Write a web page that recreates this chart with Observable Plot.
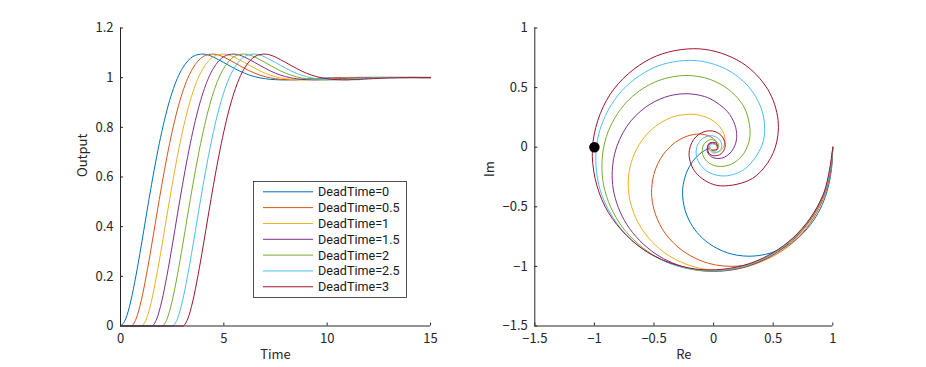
<!DOCTYPE html>
<html>
<head>
<meta charset="utf-8">
<script src="https://cdn.jsdelivr.net/npm/d3@7"></script>
<script src="https://cdn.jsdelivr.net/npm/@observablehq/plot@0.6"></script>
<style>
  html, body { margin: 0; padding: 0; background: #fff; }
  #fig { position: relative; width: 926px; height: 367px; background: #fff; overflow: hidden;
         font-family: "Noto Sans CJK JP", "Noto Sans", sans-serif; }
  #fig > svg { position: absolute; top: 0; }
</style>
</head>
<body>
<div id="fig"></div>
<script>
// ---------------- data ----------------
const deadTimes = [0, 0.5, 1, 1.5, 2, 2.5, 3];
const seriesColors = ["#0072BD", "#D95319", "#EDB120", "#7E2F8E", "#77AC30", "#4DBEEE", "#A2142F"];

// step response (left panel)
const time = [0,0.25,0.5,0.75,1,1.25,1.5,1.75,2,2.25,2.5,2.75,3,3.25,3.5,3.75,4,4.25,4.5,4.75,5,5.25,5.5,5.75,6,6.25,6.5,6.75,7,7.25,7.5,7.75,8,8.25,8.5,8.75,9,9.25,9.5,9.75,10,10.25,10.5,10.75,11,11.25,11.5,11.75,12,12.25,12.5,12.75,13,13.25,13.5,13.75,14,14.25,14.5,14.75,15];
const outDT0  = [0,.028,.101,.204,.322,.447,.569,.682,.783,.870,.941,.997,1.038,1.067,1.085,1.093,1.095,1.091,1.083,1.072,1.061,1.049,1.038,1.027,1.018,1.010,1.004,.999,.996,.993,.992,.991,.991,.992,.992,.994,.995,.996,.997,.998,.999,.999,1,1,1.001,1.001,1.001,1.001,1.001,1.001,1.001,1.001,1,1,1,1,1,1,1,1,1];
const outDT05 = [0,0,0,.028,.101,.204,.322,.447,.569,.682,.783,.870,.941,.997,1.038,1.067,1.085,1.093,1.095,1.091,1.083,1.072,1.061,1.049,1.038,1.027,1.018,1.010,1.004,.999,.996,.993,.992,.991,.991,.992,.992,.994,.995,.996,.997,.998,.999,.999,1,1,1.001,1.001,1.001,1.001,1.001,1.001,1.001,1.001,1,1,1,1,1,1,1];
const outDT1  = [0,0,0,0,0,.028,.101,.204,.322,.447,.569,.682,.783,.870,.941,.997,1.038,1.067,1.085,1.093,1.095,1.091,1.083,1.072,1.061,1.049,1.038,1.027,1.018,1.010,1.004,.999,.996,.993,.992,.991,.991,.992,.992,.994,.995,.996,.997,.998,.999,.999,1,1,1.001,1.001,1.001,1.001,1.001,1.001,1.001,1.001,1,1,1,1,1];
const outDT15 = [0,0,0,0,0,0,0,.028,.101,.204,.322,.447,.569,.682,.783,.870,.941,.997,1.038,1.067,1.085,1.093,1.095,1.091,1.083,1.072,1.061,1.049,1.038,1.027,1.018,1.010,1.004,.999,.996,.993,.992,.991,.991,.992,.992,.994,.995,.996,.997,.998,.999,.999,1,1,1.001,1.001,1.001,1.001,1.001,1.001,1.001,1.001,1,1,1];
const outDT2  = [0,0,0,0,0,0,0,0,0,.028,.101,.204,.322,.447,.569,.682,.783,.870,.941,.997,1.038,1.067,1.085,1.093,1.095,1.091,1.083,1.072,1.061,1.049,1.038,1.027,1.018,1.010,1.004,.999,.996,.993,.992,.991,.991,.992,.992,.994,.995,.996,.997,.998,.999,.999,1,1,1.001,1.001,1.001,1.001,1.001,1.001,1.001,1.001,1];
const outDT25 = [0,0,0,0,0,0,0,0,0,0,0,.028,.101,.204,.322,.447,.569,.682,.783,.870,.941,.997,1.038,1.067,1.085,1.093,1.095,1.091,1.083,1.072,1.061,1.049,1.038,1.027,1.018,1.010,1.004,.999,.996,.993,.992,.991,.991,.992,.992,.994,.995,.996,.997,.998,.999,.999,1,1,1.001,1.001,1.001,1.001,1.001,1.001,1.001];
const outDT3  = [0,0,0,0,0,0,0,0,0,0,0,0,0,.028,.101,.204,.322,.447,.569,.682,.783,.870,.941,.997,1.038,1.067,1.085,1.093,1.095,1.091,1.083,1.072,1.061,1.049,1.038,1.027,1.018,1.010,1.004,.999,.996,.993,.992,.991,.991,.992,.992,.994,.995,.996,.997,.998,.999,.999,1,1,1.001,1.001,1.001,1.001,1.001];

const stepXTicks = [0, 5, 10, 15];
const stepYTicks = [0, 0.2, 0.4, 0.6, 0.8, 1, 1.2];

// frequency response (right panel): real and imaginary parts
const reDT0  = [1,.995,.980,.950,.897,.813,.690,.528,.342,.158,0,-.118,-.194,-.237,-.256,-.260,-.255,-.231,-.203,-.177,-.154,-.134,-.118,-.104,-.090,-.078,-.068,-.060,-.048,-.039,-.033,-.027];
const imDT0  = [0,-.121,-.245,-.376,-.513,-.650,-.776,-.870,-.913,-.898,-.833,-.739,-.635,-.536,-.449,-.375,-.314,-.223,-.163,-.122,-.093,-.073,-.058,-.047,-.037,-.029,-.024,-.019,-.014,-.010,-.007,-.006];
const reDT05 = [1,.988,.951,.883,.778,.627,.430,.198,-.040,-.248,-.400,-.486,-.519,-.513,-.485,-.446,-.403,-.319,-.247,-.189,-.142,-.106,-.077,-.054,-.032,-.015,-.002,.008,.020,.026,.027,.026];
const imDT05 = [0,-.170,-.342,-.514,-.681,-.831,-.945,-.998,-.975,-.877,-.731,-.568,-.415,-.283,-.178,-.097,-.036,.043,.083,.102,.110,.110,.106,.100,.092,.082,.072,.063,.046,.031,.019,.009];
const reDT1  = [1,.978,.912,.797,.627,.402,.131,-.156,-.417,-.605,-.701,-.712,-.662,-.580,-.486,-.392,-.306,-.165,-.063,.006,.051,.078,.092,.096,.093,.083,.070,.054,.023,-.002,-.018,-.025];
const imDT1  = [0,-.219,-.435,-.640,-.822,-.961,-1.030,-1.006,-.882,-.682,-.450,-.230,-.049,.085,.176,.233,.264,.276,.252,.215,.172,.132,.094,.061,.027,0,-.020,-.033,-.044,-.040,-.028,-.013];
const reDT15 = [1,.966,.864,.692,.451,.152,-.179,-.492,-.727,-.842,-.831,-.727,-.574,-.410,-.258,-.128,-.024,.114,.178,.194,.179,.147,.108,.068,.022,-.015,-.040,-.053,-.049,-.023,.006,.023];
const imDT15 = [0,-.268,-.524,-.752,-.930,-1.030,-1.023,-.891,-.650,-.351,-.059,.176,.333,.419,.448,.438,.404,.301,.190,.092,.015,-.040,-.074,-.092,-.094,-.082,-.061,-.035,.010,.033,.033,.016];
const reDT2  = [1,.952,.808,.572,.257,-.108,-.473,-.767,-.923,-.911,-.758,-.528,-.286,-.073,.091,.205,.273,.306,.256,.170,.079,.001,-.055,-.087,-.095,-.078,-.046,-.010,.038,.038,.007,-.020];
const imDT2  = [0,-.316,-.608,-.847,-1.001,-1.036,-.924,-.668,-.316,.050,.347,.530,.599,.582,.509,.408,.298,.098,-.048,-.131,-.161,-.153,-.119,-.074,-.016,.029,.056,.063,.032,-.013,-.033,-.019];
const reDT25 = [1,.935,.743,.439,.053,-.361,-.725,-.950,-.973,-.798,-.499,-.173,.103,.294,.398,.428,.404,.267,.098,-.040,-.122,-.147,-.127,-.080,-.011,.043,.067,.061,.001,-.038,-.019,.017];
const imDT25 = [0,-.363,-.685,-.923,-1.032,-.977,-.743,-.365,.069,.441,.668,.728,.656,.507,.330,.159,.012,-.179,-.241,-.211,-.132,-.042,.034,.081,.096,.071,.027,-.017,-.050,-.012,.027,.022];
const reDT3  = [1,.915,.671,.296,-.153,-.591,-.912,-1.017,-.869,-.527,-.118,.233,.455,.541,.517,.421,.290,.026,-.150,-.206,-.167,-.080,.012,.075,.097,.063,.006,-.041,-.040,.023,.028,-.014];
const imDT3  = [0,-.409,-.756,-.978,-1.022,-.857,-.495,-.017,.442,.744,.825,.711,.484,.226,-.003,-.175,-.281,-.320,-.213,-.060,.065,.130,.131,.085,.006,-.055,-.072,-.049,.031,.033,-.018,-.024];

const criticalRe = [-1];
const criticalIm = [0];

const reTicks = [-1.5, -1, -0.5, 0, 0.5, 1];
const imTicks = [-1.5, -1, -0.5, 0, 0.5, 1];

// ---------------- drawing ----------------
const stepOutputs = [outDT0, outDT05, outDT1, outDT15, outDT2, outDT25, outDT3];
const nyqRe = [reDT0, reDT05, reDT1, reDT15, reDT2, reDT25, reDT3];
const nyqIm = [imDT0, imDT05, imDT1, imDT15, imDT2, imDT25, imDT3];

const ink = "#262626";
const fontFamily = '"Noto Sans CJK JP", "Noto Sans", sans-serif';
const legendFont = 'Roboto, "Liberation Sans", sans-serif';
const fs = 13;
const fmt = d => (d < 0 ? "\u2212" : "") + Math.abs(d);
const W = 463, H = 367, mT = 27.5, mB = 41.5;
const innerH = H - mT - mB;

function frameMarks(xTicks, yTicks, innerW, xLabel, yLabel, yLabelDx) {
  return [
    Plot.axisX(xTicks, {tickSize: 0, tickPadding: 8, tickFormat: fmt, label: null, fontSize: fs, fill: ink}),
    Plot.axisY(yTicks, {tickSize: 0, tickPadding: 7, tickFormat: fmt, label: null, fontSize: fs, fill: ink}),
    Plot.tickX(xTicks, {x: d => d, insetTop: innerH - 3, stroke: ink, strokeWidth: 1}),
    Plot.tickY(yTicks, {y: d => d, insetRight: innerW - 3, stroke: ink, strokeWidth: 1}),
    Plot.text([xLabel], {text: d => d, frameAnchor: "bottom", dy: 33, fontSize: fs, fill: ink}),
    Plot.text([yLabel], {text: d => d, frameAnchor: "left", dx: yLabelDx, rotate: -90, fontSize: fs, fill: ink})
  ];
}

// left panel: step responses
const leftML = 120, leftMR = 33;
const leftInnerW = W - leftML - leftMR;
const leftPlot = Plot.plot({
  width: W, height: H,
  marginLeft: leftML, marginRight: leftMR, marginTop: mT, marginBottom: mB,
  style: {fontFamily, fontSize: fs + "px", color: ink, background: "transparent", overflow: "visible"},
  x: {domain: [0, 15], label: null},
  y: {domain: [0, 1.2], label: null},
  marks: [
    ...frameMarks(stepXTicks, stepYTicks, leftInnerW, "Time", "Output", -38),
    ...stepOutputs.map((ys, i) => Plot.line(time, {x: time, y: ys, stroke: seriesColors[i], strokeWidth: 1, curve: "monotone-x"})),
    Plot.ruleX([0], {stroke: ink, strokeWidth: 1}),
    Plot.ruleY([0], {stroke: ink, strokeWidth: 1})
  ]
});
leftPlot.style.left = "0px";

// right panel: frequency response in the complex plane
const rightML = 71.3, rightMR = 93.7;
const rightInnerW = W - rightML - rightMR;
const rightPlot = Plot.plot({
  width: W, height: H,
  marginLeft: rightML, marginRight: rightMR, marginTop: mT, marginBottom: mB,
  style: {fontFamily, fontSize: fs + "px", color: ink, background: "transparent", overflow: "visible"},
  x: {domain: [-1.5, 1], label: null},
  y: {domain: [-1.5, 1], label: null},
  marks: [
    ...frameMarks(reTicks, imTicks, rightInnerW, "Re", "Im", -45),
    ...nyqRe.map((re, i) => Plot.line(re, {x: re, y: nyqIm[i], stroke: seriesColors[i], strokeWidth: 1, curve: "catmull-rom"})),
    Plot.dot(criticalRe, {x: criticalRe, y: criticalIm, r: 4.5, fill: "black", stroke: "black"}),
    Plot.ruleX([-1.5], {stroke: ink, strokeWidth: 1}),
    Plot.ruleY([-1.5], {stroke: ink, strokeWidth: 1})
  ]
});
rightPlot.style.left = W + "px";

const fig = document.getElementById("fig");
fig.appendChild(leftPlot);
fig.appendChild(rightPlot);

// legend (inside the left axes, like the original)
const legW = 154, legH = 117, rowH = 15.83;
const leg = d3.select(fig).append("svg")
  .attr("width", legW).attr("height", legH)
  .style("position", "absolute").style("left", "253px").style("top", "180.5px");
leg.append("rect").attr("x", 0.5).attr("y", 0.5).attr("width", legW - 1).attr("height", legH - 1)
  .attr("fill", "#fff").attr("stroke", ink).attr("stroke-width", 0.8);
deadTimes.forEach((L, i) => {
  const y = 10.8 + rowH * i;
  leg.append("line").attr("x1", 10).attr("x2", 60).attr("y1", y).attr("y2", y)
    .attr("stroke", seriesColors[i]).attr("stroke-width", 1);
  leg.append("text").attr("x", 65).attr("y", y).attr("dy", "0.35em")
    .attr("font-family", legendFont).attr("font-size", 12.6).attr("fill", "#1a1a1a")
    .text(`DeadTime=${L}`);
});
</script>
</body>
</html>
